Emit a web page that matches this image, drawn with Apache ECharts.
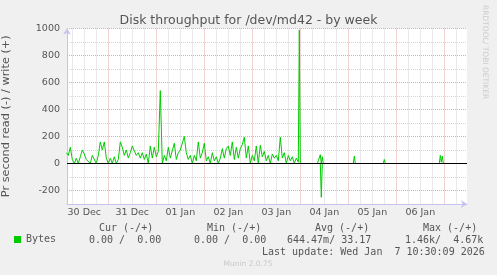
<!DOCTYPE html>
<html><head><meta charset="utf-8">
<script src="https://cdn.jsdelivr.net/npm/echarts@6/dist/echarts.min.js"></script>
<style>html,body{margin:0;padding:0;background:#f0f0f0}#c{width:497px;height:275px}</style>
</head><body><div id="c"></div>
<script>
// Hours are counted from 31 Dec 00:00
const xMin = -20.65, xMax = 179.35;
const dayLabels = ['30 Dec','31 Dec','01 Jan','02 Jan','03 Jan','04 Jan','05 Jan','06 Jan'];
const labelHours = [-12, 12, 36, 60, 84, 108, 132, 156];
const majorHours = [0, 24, 48, 72, 96, 120, 144, 168];
const minorHours = [-18,-12,-6, 6,12,18, 30,36,42, 54,60,66, 78,84,90, 102,108,114, 126,132,138, 150,156,162, 174];
const yTickLabels = [-200, 0, 200, 400, 600, 800, 1000];

// write (+), hourly samples starting at hour -21
const writeStartHour = -21;
const writeHourly = [
 80,60,120,30,0,40,0,50,100,70,30,40,0,60,50,0,60,160,100,160,40,
 0,40,0,50,0,30,160,120,60,100,40,80,130,140,60,80,40,80,30,70,0,130,40,120,
 50,90,540,0,60,20,120,40,50,150,30,80,100,150,200,80,30,60,0,60,20,160,40,80,
 150,20,50,0,80,20,50,0,40,110,40,110,130,60,160,30,120,40,110,140,195,40,130,0,
 60,20,130,0,135,50,90,20,60,0,70,40,60,20,195,40,80,0,60,20,50,0,40,10
];
// later sparse samples (null = no data)
const writeExtraHours  = [95.5, 96, 100, 104.5, 105, 105.5, 106, 106.5, 107, 107.5, 115, 122.5, 123, 123.5, 130, 137.5, 138, 138.5, 150, 165.5, 166, 166.5, 167, 167.5];
const writeExtraValues = [990, 0, null, 0, 20, 30, 65, 0, 50, 0, null, 0, 55, 0, null, 0, 30, 0, null, 0, 60, 10, 55, 0];
// read (-)
const readHours  = [106, 106.5, 107];
const readValues = [0, -250, 0];

const writeData = [];
writeHourly.forEach((v, i) => writeData.push([writeStartHour + i, v]));
writeExtraHours.forEach((h, i) => writeData.push([h, writeExtraValues[i] === null ? '-' : writeExtraValues[i]]));
const readData = readHours.map((h, i) => [h, readValues[i]]);

const txt = '#555555';
const axisCol = '#c4c4ee';
const minorCol = '#d6d6d6';
const majorCol = '#e8a8a8';
const mono = 'DejaVu Sans Mono';

const chart = echarts.init(document.getElementById('c'), null, {renderer: 'canvas'});
chart.setOption({
  animation: false,
  backgroundColor: '#f0f0f0',
  title: {
    text: 'Disk throughput for /dev/md42 - by week',
    left: 'center', top: 9,
    textStyle: {fontFamily: 'DejaVu Sans', fontSize: 12.5, fontWeight: 'normal', color: txt}
  },
  legend: {
    data: [{name: 'Bytes', icon: 'rect'}],
    left: 14, top: 234.5, itemWidth: 7, itemHeight: 7, padding: 0,
    textStyle: {fontFamily: mono, fontSize: 10, color: txt}
  },
  grid: {left: 67, top: 28.5, width: 400, height: 175.5, show: true, backgroundColor: '#ffffff', borderWidth: 0,
         containLabel: false, outerBoundsMode: 'none'},
  xAxis: [
    {
      type: 'value', min: xMin, max: xMax, position: 'bottom',
      axisLine: {show: false, onZero: false},
      axisTick: {show: false, customValues: minorHours},
      axisLabel: {show: false},
      splitLine: {show: true, lineStyle: {color: minorCol, type: [1, 1], width: 1}}
    },
    {
      type: 'value', min: xMin, max: xMax, position: 'bottom',
      axisLine: {show: true, onZero: false, lineStyle: {color: axisCol}, symbol: ['none', 'arrow'], symbolSize: [6, 6]},
      axisTick: {show: false, customValues: majorHours},
      axisLabel: {
        customValues: labelHours, margin: 3.5,
        fontFamily: 'DejaVu Sans', fontSize: 9.5, color: txt,
        formatter: v => { const i = labelHours.indexOf(v); return i >= 0 ? dayLabels[i] : ''; }
      },
      splitLine: {show: true, lineStyle: {color: majorCol, type: [1, 1], width: 1}}
    }
  ],
  yAxis: {
    type: 'value', min: -300, max: 1000, interval: 100,
    name: 'Pr second read (-) / write (+)', nameLocation: 'middle', nameRotate: 90, nameGap: 55,
    nameTextStyle: {fontFamily: 'DejaVu Sans', fontSize: 11.3, color: txt},
    axisLine: {show: true, onZero: false, lineStyle: {color: axisCol}, symbol: ['none', 'arrow'], symbolSize: [6, 6]},
    axisTick: {show: false},
    axisLabel: {
      margin: 7, fontFamily: 'DejaVu Sans', fontSize: 9.5, color: txt,
      formatter: v => yTickLabels.indexOf(v) >= 0 ? String(v) : ''
    },
    splitLine: {show: true, lineStyle: {color: [minorCol, majorCol], type: [1, 1], width: 1}}
  },
  series: [
    {
      name: 'Bytes', type: 'line', xAxisIndex: 1, data: writeData,
      symbol: 'none', showSymbol: false, connectNulls: false, z: 2,
      lineStyle: {color: '#00cc00', width: 1}, itemStyle: {color: '#00cc00'}
    },
    {
      name: 'Bytes', type: 'line', xAxisIndex: 1, data: readData,
      symbol: 'none', showSymbol: false, z: 3,
      lineStyle: {color: '#00cc00', width: 1}, itemStyle: {color: '#00cc00'},
      markLine: {
        silent: true, symbol: 'none', label: {show: false},
        lineStyle: {color: '#000000', width: 1, type: 'solid'},
        data: [{yAxis: 0}]
      }
    }
  ],
  graphic: [
    {type: 'text', x: 99, y: 228, style: {text: 'Cur (-/+)', fontFamily: mono, fontSize: 10, fill: txt, align: 'left', verticalAlign: 'middle'}},
    {type: 'text', x: 207, y: 228, style: {text: 'Min (-/+)', fontFamily: mono, fontSize: 10, fill: txt, align: 'left', verticalAlign: 'middle'}},
    {type: 'text', x: 315, y: 228, style: {text: 'Avg (-/+)', fontFamily: mono, fontSize: 10, fill: txt, align: 'left', verticalAlign: 'middle'}},
    {type: 'text', x: 423, y: 228, style: {text: 'Max (-/+)', fontFamily: mono, fontSize: 10, fill: txt, align: 'left', verticalAlign: 'middle'}},
    {type: 'text', x: 89, y: 240, style: {text: '0.00 /  0.00', fontFamily: mono, fontSize: 10, fill: txt, align: 'left', verticalAlign: 'middle'}},
    {type: 'text', x: 194, y: 240, style: {text: '0.00 /  0.00', fontFamily: mono, fontSize: 10, fill: txt, align: 'left', verticalAlign: 'middle'}},
    {type: 'text', x: 287, y: 240, style: {text: '644.47m/ 33.17', fontFamily: mono, fontSize: 10, fill: txt, align: 'left', verticalAlign: 'middle'}},
    {type: 'text', x: 405, y: 240, style: {text: '1.46k/  4.67k', fontFamily: mono, fontSize: 10, fill: txt, align: 'left', verticalAlign: 'middle'}},
    {type: 'text', x: 262, y: 252, style: {text: 'Last update: Wed Jan  7 10:30:09 2026', fontFamily: mono, fontSize: 10, fill: txt, align: 'left', verticalAlign: 'middle'}},
    {type: 'text', x: 248, y: 264, style: {text: 'Munin 2.0.75', fontFamily: 'DejaVu Sans', fontSize: 7.5, fill: '#c8c8c8', align: 'center', verticalAlign: 'middle'}},
    {type: 'text', x: 485, y: 5, rotation: -Math.PI / 2, style: {text: 'RRDTOOL/ TOBI OETIKER', fontFamily: 'DejaVu Sans', fontSize: 7.5, fill: '#cccccc', align: 'left', verticalAlign: 'middle'}}
  ]
});
</script></body></html>
